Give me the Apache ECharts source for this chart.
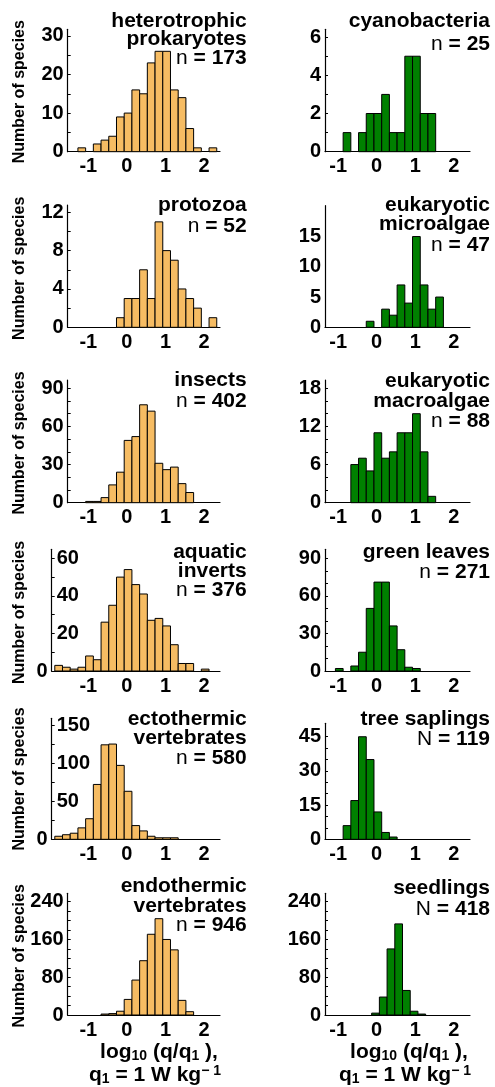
<!DOCTYPE html>
<html><head><meta charset="utf-8">
<script src="https://cdn.jsdelivr.net/npm/echarts@6/dist/echarts.min.js"></script>
<style>html,body{margin:0;padding:0;background:#fff}#c{width:495px;height:1087px}</style>
</head><body><div id="c"></div>
<script>
// ---------------- DATA ----------------
const binWidth = 0.2;
const xTickLabels = [-1, 0, 1, 2];

const hetProkTitle = ['heterotrophic', 'prokaryotes', 'n = 173'];
const hetProkStart = -1.27;
const hetProkCounts = [1, 0, 2, 3, 4, 9, 10, 16, 15, 23, 26, 26, 16, 14, 6, 1, 0, 1];
const hetProkYLabels = [0, 10, 20, 30];
const hetProkYTicks = [0, 5, 10, 15, 20, 25, 30];

const cyanoTitle = ['cyanobacteria', 'n = 25'];
const cyanoStart = -0.87;
const cyanoCounts = [1, 0, 1, 2, 2, 3, 1, 1, 5, 5, 2, 2];
const cyanoYLabels = [0, 2, 4, 6];
const cyanoYTicks = [0, 1, 2, 3, 4, 5, 6];

const protozoaTitle = ['protozoa', 'n = 52'];
const protozoaStart = -0.27;
const protozoaCounts = [1, 3, 3, 6, 3, 11, 8, 7, 4, 3, 2, 0, 1];
const protozoaYLabels = [0, 4, 8, 12];
const protozoaYTicks = [0, 2, 4, 6, 8, 10, 12];

const microTitle = ['eukaryotic', 'microalgae', 'n = 47'];
const microStart = -0.27;
const microCounts = [1, 0, 3, 2, 7, 4, 15, 7, 3, 5];
const microYLabels = [0, 5, 10, 15];
const microYTicks = [];

const insectsTitle = ['insects', 'n = 402'];
const insectsStart = -1.07;
const insectsCounts = [1, 1, 4, 14, 24, 49, 52, 77, 72, 31, 26, 28, 15, 8];
const insectsYLabels = [0, 30, 60, 90];
const insectsYTicks = [0, 10, 20, 30, 40, 50, 60, 70, 80, 90];

const macroTitle = ['eukaryotic', 'macroalgae', 'n = 88'];
const macroStart = -0.67;
const macroCounts = [6, 7, 5, 11, 7, 8, 11, 11, 14, 8, 1];
const macroYLabels = [0, 6, 12, 18];
const macroYTicks = [0, 2, 4, 6, 8, 10, 12, 14, 16, 18];

const aquaticTitle = ['aquatic', 'inverts', 'n = 376'];
const aquaticStart = -1.87;
const aquaticCounts = [3, 2, 1, 2, 8, 6, 26, 35, 50, 54, 46, 41, 27, 28, 24, 14, 4, 4, 0, 1];
const aquaticYLabels = [0, 20, 40, 60];
const aquaticYTicks = [0, 10, 20, 30, 40, 50, 60];

const leavesTitle = ['green leaves', 'n = 271'];
const leavesStart = -1.07;
const leavesCounts = [2, 0, 4, 15, 50, 71, 71, 36, 17, 3, 2];
const leavesYLabels = [0, 30, 60, 90];
const leavesYTicks = [0, 10, 20, 30, 40, 50, 60, 70, 80, 90];

const ectoTitle = ['ectothermic', 'vertebrates', 'n = 580'];
const ectoStart = -1.87;
const ectoCounts = [4, 6, 8, 15, 27, 72, 124, 125, 97, 63, 18, 11, 4, 2, 2, 2];
const ectoYLabels = [0, 50, 100, 150];
const ectoYTicks = [0, 25, 50, 75, 100, 125, 150];

const saplingsTitle = ['tree saplings', 'N = 119'];
const saplingsStart = -0.87;
const saplingsCounts = [6, 17, 45, 35, 12, 3, 1];
const saplingsYLabels = [0, 15, 30, 45];
const saplingsYTicks = [0, 5, 10, 15, 20, 25, 30, 35, 40, 45];

const endoTitle = ['endothermic', 'vertebrates', 'n = 946'];
const endoStart = -0.67;
const endoCounts = [2, 3, 8, 33, 74, 115, 171, 204, 160, 138, 31, 7];
const endoYLabels = [0, 80, 160, 240];
const endoYTicks = [0, 20, 40, 60, 80, 100, 120, 140, 160, 180, 200, 220, 240];

const seedTitle = ['seedlings', 'N = 418'];
const seedStart = -0.13;
const seedCounts = [4, 38, 140, 193, 52, 8, 2];
const seedYLabels = [0, 80, 160, 240];
const seedYTicks = [0, 20, 40, 60, 80, 100, 120, 140, 160, 180, 200, 220, 240];

const yAxisTitle = 'Number of species';

// ---------------- LAYOUT ----------------
const FONT = '"Liberation Sans", Arial, Helvetica, sans-serif';
const ORANGE = '#F6BC63';
const GREEN = '#008000';
const COLS = {
  L:  { left: 67.7, width: 152.3, min: -1.535, max: 2.414, fill: ORANGE, titleX: 246.7 },
  LW: { left: 51.7, width: 168.3, min: -1.95, max: 2.414, fill: ORANGE, titleX: 246.7 },
  R:  { left: 325, width: 145, min: -1.34, max: 2.42, fill: GREEN, titleX: 490 }
};
const panels = [
  { title: hetProkTitle, start: hetProkStart, counts: hetProkCounts, yl: hetProkYLabels, yt: hetProkYTicks, col: 'L', top: 29.3, bottom: 151.7, ymax: 31.7, ty: [20.8, 39.2, 58.2], yTitle: 91.7 },
  { title: cyanoTitle, start: cyanoStart, counts: cyanoCounts, yl: cyanoYLabels, yt: cyanoYTicks, col: 'R', top: 29.3, bottom: 151.7, ymax: 6.41, ty: [21.7, 44] },
  { title: protozoaTitle, start: protozoaStart, counts: protozoaCounts, yl: protozoaYLabels, yt: protozoaYTicks, col: 'L', top: 205, bottom: 327.3, ymax: 12.76, ty: [205, 226.7], yTitle: 268.3 },
  { title: microTitle, start: microStart, counts: microCounts, yl: microYLabels, yt: microYTicks, col: 'R', top: 205.7, bottom: 327.3, ymax: 20.1, ty: [205, 224.5, 245.3] },
  { title: insectsTitle, start: insectsStart, counts: insectsCounts, yl: insectsYLabels, yt: insectsYTicks, col: 'L', top: 380, bottom: 502.7, ymax: 96.5, ty: [380.7, 401.3], yTitle: 443 },
  { title: macroTitle, start: macroStart, counts: macroCounts, yl: macroYLabels, yt: macroYTicks, col: 'R', top: 380, bottom: 502.7, ymax: 19.3, ty: [381.7, 401.3, 421.7] },
  { title: aquaticTitle, start: aquaticStart, counts: aquaticCounts, yl: aquaticYLabels, yt: aquaticYTicks, col: 'LW', top: 549.3, bottom: 671, ymax: 64.8, ty: [552.3, 571.7, 590], yTitle: 612.5, inside: true },
  { title: leavesTitle, start: leavesStart, counts: leavesCounts, yl: leavesYLabels, yt: leavesYTicks, col: 'R', top: 549.3, bottom: 671, ymax: 97.2, ty: [552.3, 572.3] },
  { title: ectoTitle, start: ectoStart, counts: ectoCounts, yl: ectoYLabels, yt: ectoYTicks, col: 'LW', top: 718.3, bottom: 839.3, ymax: 158.8, ty: [719, 738.3, 758.3], yTitle: 779, inside: true },
  { title: saplingsTitle, start: saplingsStart, counts: saplingsCounts, yl: saplingsYLabels, yt: saplingsYTicks, col: 'R', top: 723.3, bottom: 839.3, ymax: 50.9, ty: [719, 739] },
  { title: endoTitle, start: endoStart, counts: endoCounts, yl: endoYLabels, yt: endoYTicks, col: 'L', top: 893.3, bottom: 1015, ymax: 257.8, ty: [886.7, 906.3, 925.3], yTitle: 955.8 },
  { title: seedTitle, start: seedStart, counts: seedCounts, yl: seedYLabels, yt: seedYTicks, col: 'R', top: 893.3, bottom: 1015, ymax: 257.8, ty: [888.3, 909] }
];

const labelStyle = { color: '#000', fontFamily: FONT, fontWeight: 'bold', fontSize: 20 };
const axisLineStyle = { color: '#000', width: 1.2 };

const grid = [], xAxis = [], yAxis = [], series = [], graphic = [];
const extraY = [];

function makeRender(fill) {
  return function (params, api) {
    const c = api.value(2);
    if (!c) return null;
    const p0 = api.coord([api.value(0), c]);
    const p1 = api.coord([api.value(1), 0]);
    return {
      type: 'rect',
      shape: { x: p0[0], y: p0[1], width: p1[0] - p0[0], height: p1[1] - p0[1] },
      style: { fill: fill, stroke: '#000', lineWidth: 1 }
    };
  };
}

panels.forEach((p, i) => {
  const col = COLS[p.col];
  grid.push({ left: col.left, width: col.width, top: p.top, height: p.bottom - p.top, containLabel: false });
  xAxis.push({
    type: 'value', gridIndex: i, min: col.min, max: col.max, position: 'bottom',
    axisLine: { show: true, onZero: false, lineStyle: axisLineStyle },
    axisTick: { show: false },
    splitLine: { show: false },
    axisLabel: Object.assign({ customValues: xTickLabels, margin: 5 }, labelStyle)
  });
  yAxis.push({
    type: 'value', gridIndex: i, min: 0, max: p.ymax, position: 'left',
    axisLine: { show: true, onZero: false, lineStyle: axisLineStyle },
    axisTick: { show: p.yt.length > 0, inside: true, length: 3, customValues: p.yt, lineStyle: { color: '#000', width: 1 } },
    splitLine: { show: false },
    axisLabel: Object.assign({ customValues: p.inside ? p.yl.filter(v => v !== 0) : p.yl, margin: p.inside ? 5 : 4, inside: !!p.inside }, labelStyle)
  });
  if (p.inside) {
    extraY.push({
      type: 'value', gridIndex: i, min: 0, max: p.ymax, position: 'left',
      axisLine: { show: false, onZero: false }, axisTick: { show: false }, splitLine: { show: false },
      axisLabel: Object.assign({ customValues: [0], margin: 4 }, labelStyle)
    });
  }
  series.push({
    type: 'custom', xAxisIndex: i, yAxisIndex: i,
    renderItem: makeRender(col.fill),
    encode: { x: [0, 1], y: 2 },
    data: p.counts.map((c, k) => [p.start + k * binWidth, p.start + (k + 1) * binWidth, c]),
    silent: true
  });
  p.title.forEach((line, j) => {
    const m = line.match(/^([nN])( = .*)$/);
    graphic.push({
      type: 'text', x: col.titleX, y: p.ty[j],
      style: {
        text: m ? '{r|' + m[1] + '}{b|' + m[2] + '}' : '{b|' + line + '}',
        align: 'right', verticalAlign: 'middle', textAlign: 'right', textVerticalAlign: 'middle',
        fill: '#000',
        rich: {
          r: { fontFamily: FONT, fontWeight: 'normal', fontSize: 21, fill: '#000' },
          b: { fontFamily: FONT, fontWeight: 'bold', fontSize: 21, fill: '#000' }
        }
      }
    });
  });
  if (p.yTitle) {
    graphic.push({
      type: 'text', x: 20, y: p.yTitle, rotation: Math.PI / 2,
      style: {
        text: yAxisTitle, fontFamily: FONT, fontWeight: 'bold', fontSize: 16, fill: '#000',
        align: 'center', verticalAlign: 'middle', textAlign: 'center', textVerticalAlign: 'middle'
      }
    });
  }
});

const xRich = {
  m: { fontFamily: FONT, fontWeight: 'bold', fontSize: 21, lineHeight: 22, fill: '#000', verticalAlign: 'middle' },
  s: { fontFamily: FONT, fontWeight: 'bold', fontSize: 14, lineHeight: 12, fill: '#000', verticalAlign: 'bottom' },
  u: { fontFamily: FONT, fontWeight: 'bold', fontSize: 14, lineHeight: 14, fill: '#000', verticalAlign: 'top' }
};
const xLine1 = '{m|log}{s|10}{m| (q/q}{s|1}{m| ),}';
const xLine2 = '{m|q}{s|1}{m| = 1 W kg}{u|\u2212 1}';
[{ x1: 159, x2: 155 }, { x1: 409, x2: 405 }].forEach(c => {
  graphic.push({ type: 'text', x: c.x1, y: 1052, style: { text: xLine1, rich: xRich, align: 'center', verticalAlign: 'middle', textAlign: 'center', textVerticalAlign: 'middle' } });
  graphic.push({ type: 'text', x: c.x2, y: 1075, style: { text: xLine2, rich: xRich, align: 'center', verticalAlign: 'middle', textAlign: 'center', textVerticalAlign: 'middle' } });
});

const chart = echarts.init(document.getElementById('c'), null, { renderer: 'canvas' });
chart.setOption({
  animation: false,
  backgroundColor: '#fff',
  grid: grid,
  xAxis: xAxis,
  yAxis: yAxis.concat(extraY),
  series: series,
  graphic: graphic
});
</script>
</body></html>
